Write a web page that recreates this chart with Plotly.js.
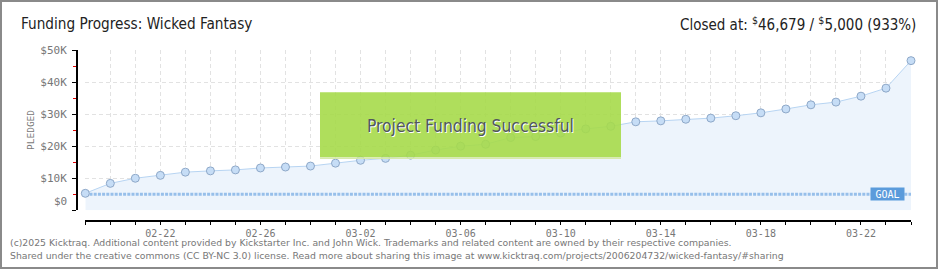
<!DOCTYPE html>
<html>
<head>
<meta charset="utf-8">
<script src="https://cdn.plot.ly/plotly-3.0.1.min.js"></script>
<style>
  html, body { margin: 0; padding: 0; background: #fff; }
  #chart { width: 940px; height: 270px; }
</style>
</head>
<body>
<div id="chart"></div>
<script>
// ---- data ----
const dates = [
  '2025-02-19','2025-02-20','2025-02-21','2025-02-22','2025-02-23','2025-02-24','2025-02-25',
  '2025-02-26','2025-02-27','2025-02-28','2025-03-01','2025-03-02','2025-03-03','2025-03-04',
  '2025-03-05','2025-03-06','2025-03-07','2025-03-08','2025-03-09','2025-03-10','2025-03-11',
  '2025-03-12','2025-03-13','2025-03-14','2025-03-15','2025-03-16','2025-03-17','2025-03-18',
  '2025-03-19','2025-03-20','2025-03-21','2025-03-22','2025-03-23','2025-03-24'
];
const pledged = [
  5300, 8400, 10000, 10900, 11900, 12300, 12600,
  13200, 13500, 13800, 14700, 15600, 16200, 17200,
  18800, 20000, 20600, 22700, 23000, 24100, 25400,
  26200, 27600, 27900, 28400, 28750, 29500, 30400,
  31600, 32900, 33750, 35600, 38100, 46679
];
const goal = 5000;
const yTickVals = [0, 10000, 20000, 30000, 40000, 50000];
const yTickText = ['', '$10K', '$20K', '$30K', '$40K', '$50K'];
const titleText = 'Funding Progress: Wicked Fantasy';
const closedText = 'Closed at: <sup>$</sup>46,679 / <sup>$</sup>5,000 (933%)';
const bannerText = 'Project Funding Successful';
const footer1 = '(c)2025 Kicktraq. Additional content provided by Kickstarter Inc. and John Wick. Trademarks and related content are owned by their respective companies.';
const footer2 = 'Shared under the creative commons (CC BY-NC 3.0) license. Read more about sharing this image at www.kicktraq.com/projects/2006204732/wicked-fantasy/#sharing';

// ---- geometry helpers (pixel -> paper) ----
const W = 940, H = 270;
const ML = 76, MR = 29, MT = 50, MB = 50;
const PW = W - ML - MR, PH = H - MT - MB;
const px = v => (v - ML) / PW;
const py = v => (H - MB - v) / PH;

const goalX = [dates[0], dates[dates.length - 1]];
const goalY = [goal, goal];

const traces = [
  { // area fill
    x: dates, y: pledged, type: 'scatter', mode: 'none',
    fill: 'tozeroy', fillcolor: '#edf4fc', hoverinfo: 'skip'
  },
  { // goal line
    x: goalX, y: goalY, type: 'scatter', mode: 'lines',
    line: { color: '#97bfea', width: 2.8, dash: '3px,1.2px' }, hoverinfo: 'skip'
  },
  { // pledged line + markers
    x: dates, y: pledged, type: 'scatter', mode: 'lines+markers',
    cliponaxis: false,
    line: { color: '#b7d4f2', width: 1 },
    marker: { size: 8, color: '#c6ddf6', line: { color: '#8ea8c8', width: 1 } },
    hoverinfo: 'skip'
  }
];

const condensed = 'DejaVu Sans Condensed, DejaVu Sans, sans-serif';
const gridDash = '4px,3px';
const layout = {
  width: W, height: H,
  margin: { l: ML, r: MR, t: MT, b: MB, pad: 0 },
  paper_bgcolor: '#ffffff', plot_bgcolor: '#ffffff',
  showlegend: false,
  hovermode: false,
  xaxis: {
    type: 'date',
    domain: [px(85.3), 1],
    range: [dates[0], dates[dates.length - 1]],
    anchor: 'free', position: 0,
    showline: true, linecolor: '#000', linewidth: 1.5,
    ticks: 'outside', ticklen: 3, tickwidth: 1, tickcolor: '#000',
    tick0: '2025-02-22', dtick: 4 * 86400000,
    tickformat: '%m-%d',
    tickfont: { family: 'DejaVu Sans Mono, monospace', size: 10, color: '#777' },
    showgrid: true, gridcolor: '#e2e2e2', griddash: gridDash, gridwidth: 1,
    zeroline: false,
    minor: {
      tick0: '2025-02-19', dtick: 86400000,
      ticks: 'outside', ticklen: 3, tickwidth: 1, tickcolor: '#000',
      showgrid: true, gridcolor: '#e2e2e2', griddash: gridDash, gridwidth: 1
    }
  },
  yaxis: {
    domain: [py(210.3), 1],
    range: [0, 50000],
    anchor: 'free', position: 0,
    showline: true, linecolor: '#000', linewidth: 1.5,
    ticks: 'outside', ticklen: 4, tickwidth: 1, tickcolor: '#000',
    tickvals: yTickVals, ticktext: yTickText,
    tickfont: { family: 'DejaVu Sans Mono, monospace', size: 11, color: '#777' },
    ticklabelstandoff: 3,
    showgrid: true, gridcolor: '#e2e2e2', griddash: gridDash, gridwidth: 1,
    zeroline: false,
    minor: {
      dtick: 5000, ticks: 'outside', ticklen: 3, tickwidth: 1, tickcolor: '#e00000',
      showgrid: false
    }
  },
  shapes: [
    { // outer frame
      type: 'rect', xref: 'paper', yref: 'paper', layer: 'above',
      x0: px(1), x1: px(937), y0: py(1), y1: py(268),
      line: { color: '#8a8a8a', width: 2 }, fillcolor: 'rgba(0,0,0,0)'
    },
    { // success banner
      type: 'rect', xref: 'paper', yref: 'paper', layer: 'above',
      x0: px(320), x1: px(621), y0: py(92.3), y1: py(157.3),
      line: { width: 0 }, fillcolor: 'rgba(166,218,74,0.9)'
    },
    { // banner bottom edge
      type: 'rect', xref: 'paper', yref: 'paper', layer: 'above',
      x0: px(320), x1: px(621), y0: py(157.3), y1: py(159),
      line: { width: 0 }, fillcolor: 'rgba(214,232,170,0.95)'
    }
  ],
  annotations: [
    {
      text: titleText, xref: 'paper', yref: 'paper', x: px(19), y: py(24),
      xanchor: 'left', yanchor: 'middle', showarrow: false,
      font: { family: condensed, size: 15.2, color: '#222' }
    },
    {
      text: closedText, xref: 'paper', yref: 'paper', x: px(918), y: py(24),
      xanchor: 'right', yanchor: 'middle', showarrow: false,
      font: { family: condensed, size: 15, color: '#222' }
    },
    {
      text: 'PLEDGED', xref: 'paper', yref: 'paper', x: px(30), y: py(130),
      xanchor: 'center', yanchor: 'middle', showarrow: false, textangle: -90,
      font: { family: 'DejaVu Sans Mono, monospace', size: 9.5, color: '#777' }
    },
    {
      text: '$0', xref: 'paper', yref: 'paper', x: px(68.5), y: py(201),
      xanchor: 'right', yanchor: 'middle', showarrow: false,
      font: { family: 'DejaVu Sans Mono, monospace', size: 11, color: '#777' }
    },
    {
      text: bannerText, xref: 'paper', yref: 'paper', x: px(470.5), y: py(126),
      xanchor: 'center', yanchor: 'middle', showarrow: false,
      font: { family: condensed, size: 17.3, color: '#52575c',
              shadow: '1px 1px 0px #ffffff' }
    },
    {
      text: 'GOAL', xref: 'paper', yref: 'paper', x: px(887.7), y: py(193.7),
      xanchor: 'center', yanchor: 'middle', showarrow: false,
      bgcolor: '#5b9bdb', borderpad: 1, width: 31, height: 10,
      font: { family: 'DejaVu Sans Mono, monospace', size: 10, color: '#ffffff' }
    },
    {
      text: footer1, xref: 'paper', yref: 'paper', x: px(8), y: py(242.5),
      xanchor: 'left', yanchor: 'middle', showarrow: false,
      font: { family: 'DejaVu Sans, Verdana, sans-serif', size: 9.3, color: '#777' }
    },
    {
      text: footer2, xref: 'paper', yref: 'paper', x: px(8), y: py(256),
      xanchor: 'left', yanchor: 'middle', showarrow: false,
      font: { family: 'DejaVu Sans, Verdana, sans-serif', size: 9.3, color: '#777' }
    }
  ]
};

Plotly.newPlot('chart', traces, layout, { displayModeBar: false, staticPlot: true });
</script>
</body>
</html>
